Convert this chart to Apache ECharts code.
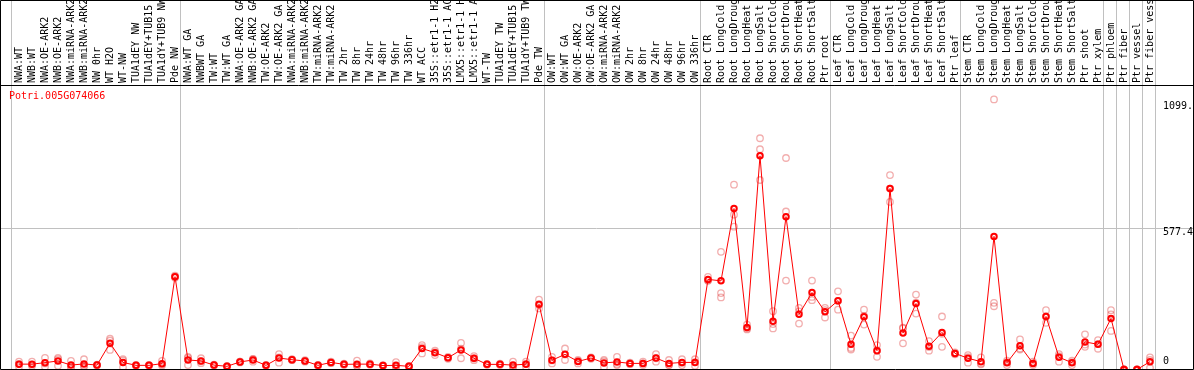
<!DOCTYPE html>
<html><head><meta charset="utf-8">
<script src="https://cdn.jsdelivr.net/npm/echarts@6/dist/echarts.min.js"></script>
<style>html,body{margin:0;padding:0;background:#fff;}#c{width:1194px;height:370px;}</style>
</head><body><div id="c"></div>
<script>
const geneName = 'Potri.005G074066';
const categories = [
 'NWA:WT','NWB:WT','NWA:OE-ARK2','NWB:OE-ARK2','NWA:miRNA-ARK2','NWB:miRNA-ARK2','NW 0hr','WT H2O','WT-NW','TUA1dEY NW','TUA1dEY+TUB15 NW','TUA1dY+TUB9 NW','Pde NW',
 'NWA:WT GA','NWBWT GA','TW:WT','TW:WT GA','NWA:OE-ARK2 GA','NWB:OE-ARK2 GA','TW:OE-ARK2','TW:OE-ARK2 GA','NWA:miRNA-ARK2 GA','NWB:miRNA-ARK2 GA','TW:miRNA-ARK2','TW:miRNA-ARK2 GA',
 'TW 2hr','TW 8hr','TW 24hr','TW 48hr','TW 96hr','TW 336hr','WT ACC','35S::etr1-1 H2O','35S::etr1-1 ACC','LMX5::etr1-1 H2O','LMX5::etr1-1 ACC','WT-TW','TUA1dEY TW','TUA1dEY+TUB15 TW','TUA1dY+TUB9 TW','Pde TW',
 'OW:WT','OW:WT GA','OW:OE-ARK2','OW:OE-ARK2 GA','OW:miRNA-ARK2','OW:miRNA-ARK2 GA','OW 2hr','OW 8hr','OW 24hr','OW 48hr','OW 96hr','OW 336hr',
 'Root CTR','Root LongCold','Root LongDrought','Root LongHeat','Root LongSalt','Root ShortCold','Root ShortDrought','Root ShortHeat','Root ShortSalt','Ptr root',
 'Leaf CTR','Leaf LongCold','Leaf LongDrought','Leaf LongHeat','Leaf LongSalt','Leaf ShortCold','Leaf ShortDrought','Leaf ShortHeat','Leaf ShortSalt','Ptr leaf',
 'Stem CTR','Stem LongCold','Stem LongDrought','Stem LongHeat','Stem LongSalt','Stem ShortCold','Stem ShortDrought','Stem ShortHeat','Stem ShortSalt','Ptr shoot','Ptr xylem',
 'Ptr phloem','Ptr fiber','Ptr vessel','Ptr fiber vessel'
];
const meanValues = [
 22,22,28,35,18,23,18,108,29,17,17,24,380,
 39,35,18,13,31,39,17,47,40,35,17,29,21,22,22,16,17,13,86,69,48,80,46,21,21,18,22,267,
 38,62,33,47,27,31,25,25,47,25,29,29,
 369,363,659,172,875,198,626,226,315,236,
 282,103,216,77,741,149,270,95,152,66,
 46,32,545,28,97,25,217,50,28,113,103,
 209,0,0,32
];
const rep1 = [
 32,32,48,48,35,42,20,126,42,19,19,35,384,
 52,46,20,15,32,42,19,63,42,38,19,32,24,36,25,18,30,15,100,77,52,109,55,23,24,32,32,286,
 52,86,39,50,39,52,28,32,63,39,42,42,
 379,482,757,184,947,239,866,252,364,252,
 320,139,245,100,796,171,307,116,217,70,
 59,50,1106,36,123,32,243,63,36,144,120,
 243,0,0,50
];
const rep2 = [
 11,14,11,15,11,11,16,80,9,15,15,16,376,
 18,26,16,11,29,32,15,28,38,32,14,26,18,14,19,14,12,11,66,59,44,46,38,19,18,11,11,250,
 25,39,25,44,9,18,22,18,32,18,18,15,
 365,313,634,164,902,186,647,188,284,213,
 245,82,184,52,686,107,229,77,93,62,
 28,25,273,18,86,18,191,32,18,93,85,
 158,0,0,39
];
const rep3 = [
 23,20,25,42,8,16,18,118,36,17,17,21,380,
 47,33,18,13,32,43,17,50,40,35,18,29,21,16,22,16,9,13,92,71,48,85,45,21,21,11,23,265,
 37,61,35,47,33,23,25,25,46,18,27,30,
 363,295,585,168,776,168,364,238,297,243,
 281,88,219,79,741,169,274,92,146,66,
 51,21,259,30,82,25,217,55,30,102,104,
 226,0,0,7
];
const yTickValues = [0, 577.4, 1099.9];
const yTickLabels = ['0', '577.4', '1099.'];
const groupEnds = [13, 41, 53, 63, 73, 84, 85, 86, 87, 88];

const FONT = '"DejaVu Sans Mono", monospace';
const chart = echarts.init(document.getElementById('c'), null, {renderer: 'canvas'});
const repStyle = {color: 'rgba(0,0,0,0)', borderColor: 'rgba(225,70,70,0.55)', borderWidth: 1.3};
function repSeries(d) {
  return {type: 'scatter', data: d, symbol: 'circle', symbolSize: 6.5, itemStyle: repStyle, z: 2, silent: true};
}
chart.setOption({
  animation: false,
  backgroundColor: '#fff',
  title: {text: geneName, left: 9, top: 91, padding: 0,
    textStyle: {color: '#ff0000', fontSize: 10, fontWeight: 'normal', fontFamily: FONT}},
  grid: {left: 12.5, right: 37.5, top: 85, bottom: 0.5, containLabel: false, outerBoundsMode: 'none'},
  xAxis: {type: 'category', position: 'top', data: categories, boundaryGap: true,
    axisLine: {show: false}, axisTick: {show: false}, splitLine: {show: false},
    axisLabel: {rotate: 90, interval: 0, margin: 2, color: '#000', fontSize: 10, fontFamily: FONT, hideOverlap: false}},
  yAxis: {type: 'value', min: 0, max: 1165, axisLine: {show: false}, axisTick: {show: false},
    axisLabel: {show: false}, splitLine: {show: false}},
  series: [
    repSeries(rep1), repSeries(rep2), repSeries(rep3),
    {type: 'line', data: meanValues, symbol: 'circle', symbolSize: 5.5, showAllSymbol: true,
      lineStyle: {color: '#ff0000', width: 1},
      itemStyle: {color: 'rgba(0,0,0,0)', borderColor: '#ff0000', borderWidth: 2}, z: 3}
  ]
});

const gfx = [];
const X = i => chart.convertToPixel({xAxisIndex: 0}, i);
const Y = v => chart.convertToPixel({yAxisIndex: 0}, v);
const crisp = v => Math.round(v - 0.5) + 0.5;
const gray = '#c0c0c0';
const vx = [X(0) - 8].concat(groupEnds.map(e => X(e - 1) + 5));
vx.forEach(x => gfx.push({type: 'line', z: 0, silent: true,
  shape: {x1: crisp(x), y1: 0, x2: crisp(x), y2: 369}, style: {stroke: gray, lineWidth: 1}}));
const yg = crisp(Y(yTickValues[1]));
gfx.push({type: 'line', z: 0, silent: true, shape: {x1: 0, y1: yg, x2: 1193, y2: yg}, style: {stroke: gray, lineWidth: 1}});
gfx.push({type: 'rect', z: 10, silent: true, shape: {x: 0.5, y: 0.5, width: 1193, height: 369},
  style: {fill: null, stroke: '#000', lineWidth: 1}});
gfx.push({type: 'line', z: 10, silent: true, shape: {x1: 0, y1: 85.5, x2: 1193, y2: 85.5}, style: {stroke: '#000', lineWidth: 1}});
const yOff = [-8, 4, 6];
yTickValues.forEach((v, i) => gfx.push({type: 'text', z: 10, silent: true, x: 1163, y: Y(v) + yOff[i],
  style: {text: yTickLabels[i], fill: '#000', font: '10px ' + FONT, textAlign: 'left', textVerticalAlign: 'middle'}}));
chart.setOption({graphic: gfx});
</script></body></html>
